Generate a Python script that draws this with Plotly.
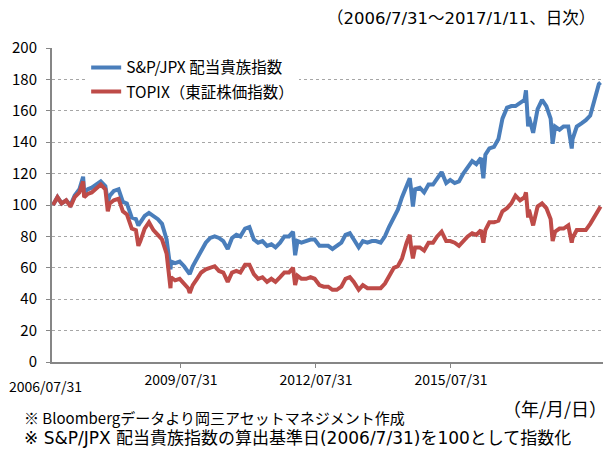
import plotly.graph_objects as go

# ---- data ----
dates = [
    "2006-07-31", "2006-08-31", "2006-09-29", "2006-10-31", "2006-11-30", "2006-12-29",
    "2007-01-31", "2007-02-26", "2007-03-05", "2007-03-30", "2007-04-27", "2007-05-31",
    "2007-06-29", "2007-07-31", "2007-08-17", "2007-08-31", "2007-09-28", "2007-10-31",
    "2007-11-30", "2007-12-28", "2008-01-31", "2008-02-29", "2008-03-17", "2008-03-31",
    "2008-04-30", "2008-05-30", "2008-06-30", "2008-07-31", "2008-08-29", "2008-09-30",
    "2008-10-27", "2008-10-31", "2008-11-28", "2008-12-30", "2009-01-30", "2009-02-27",
    "2009-03-10", "2009-03-31", "2009-04-30", "2009-05-29", "2009-06-30", "2009-07-31",
    "2009-08-31", "2009-09-30", "2009-10-30", "2009-11-30", "2009-12-30", "2010-01-29",
    "2010-02-26", "2010-03-31", "2010-04-30", "2010-05-31", "2010-06-30", "2010-07-30",
    "2010-08-31", "2010-09-30", "2010-10-29", "2010-11-30", "2010-12-30", "2011-01-31",
    "2011-02-28", "2011-03-15", "2011-03-31", "2011-04-28", "2011-05-31", "2011-06-30",
    "2011-07-29", "2011-08-31", "2011-09-30", "2011-10-31", "2011-11-30", "2011-12-30",
    "2012-01-31", "2012-02-29", "2012-03-30", "2012-04-27", "2012-05-31", "2012-06-29",
    "2012-07-31", "2012-08-31", "2012-09-28", "2012-10-31", "2012-11-30", "2012-12-28",
    "2013-01-31", "2013-02-28", "2013-03-29", "2013-04-30", "2013-05-22", "2013-05-31",
    "2013-06-13", "2013-06-28", "2013-07-31", "2013-08-30", "2013-09-30", "2013-10-31",
    "2013-11-29", "2013-12-30", "2014-01-31", "2014-02-28", "2014-03-31", "2014-04-30",
    "2014-05-30", "2014-06-30", "2014-07-31", "2014-08-29", "2014-09-30", "2014-10-17",
    "2014-10-31", "2014-11-28", "2014-12-30", "2015-01-30", "2015-02-27", "2015-03-31",
    "2015-04-30", "2015-05-29", "2015-06-30", "2015-07-31", "2015-08-10", "2015-08-25",
    "2015-08-31", "2015-09-29", "2015-10-30", "2015-11-30", "2015-12-30", "2016-01-29",
    "2016-02-12", "2016-02-29", "2016-03-31", "2016-04-28", "2016-05-31", "2016-06-24",
    "2016-06-30", "2016-07-29", "2016-08-31", "2016-09-30", "2016-10-31", "2016-11-30",
    "2016-12-30", "2017-01-11",
]

sp_jpx = [
    100, 105, 101, 103, 100, 106,
    110, 118, 108, 110, 111, 113,
    115, 112, 102, 106, 109, 110,
    102, 101, 92, 91, 87, 89,
    93, 95, 93, 91, 88, 78,
    59, 64, 63, 64, 61, 58,
    56, 61, 66, 71, 76, 79,
    80, 79, 77, 72, 79, 81,
    80, 85, 86, 78, 76, 77,
    74, 75, 73, 76, 80, 80,
    83, 68, 77, 76, 77, 78,
    78, 74, 74, 74, 72, 74,
    76, 81, 82, 78, 73, 77,
    76, 77, 77, 76, 80, 86,
    92, 97, 105, 113, 117, 110,
    99, 110, 111, 108, 113, 113,
    117, 121, 114, 116, 114, 115,
    120, 124, 128, 126, 130, 117,
    132, 136, 137, 142, 155, 162,
    163, 163, 165, 167, 173, 150,
    156, 146, 161, 167, 163, 155,
    139, 150, 148, 150, 150, 136,
    142, 150, 152, 154, 157, 168,
    177, 178,
]

topix = [
    100, 105, 101, 103, 99, 105,
    108, 115, 105, 107, 108, 111,
    113, 110, 96, 101, 103, 104,
    96, 94, 85, 84, 74, 77,
    85, 89, 84, 81, 78, 69,
    47, 54, 52, 53, 50, 47,
    44, 49, 53, 57, 59, 60,
    61, 58, 57, 51, 57, 58,
    57, 62, 62, 56, 53, 54,
    51, 53, 51, 54, 57, 57,
    60, 49, 55, 53, 53, 54,
    53, 49, 48, 48, 46, 46,
    48, 53, 54, 51, 46, 49,
    47, 47, 47, 47, 50, 55,
    60, 61, 66, 76, 81, 73,
    66, 73, 73, 71, 76, 76,
    80, 83, 77, 77, 76, 74,
    77, 80, 82, 81, 84, 76,
    84, 89, 89, 90, 96, 98,
    101, 106, 103, 105, 108, 92,
    97, 87, 99, 101, 98, 91,
    77, 83, 85, 85, 87, 76,
    79, 84, 84, 84, 88, 93,
    97, 99,
]

series_names = ["S&P/JPX 配当貴族指数", "TOPIX（東証株価指数）"]
series_colors = ["#4A7EBB", "#BE4B48"]

x_tick_dates = ["2009-01-08", "2011-08-07", "2014-03-05"]
x_tick_labels = ["2006/07/31", "2009/07/31", "2012/07/31", "2015/07/31"]
y_ticks = [0, 20, 40, 60, 80, 100, 120, 140, 160, 180, 200]

title_note = "（2006/7/31～2017/1/11、日次）"
unit_note = "（年/月/日）"
source_notes = [
    "※ Bloombergデータより岡三アセットマネジメント作成",
    "※ S&P/JPX 配当貴族指数の算出基準日(2006/7/31)を100として指数化",
]

FONT = "Noto Sans CJK JP, Noto Sans, sans-serif"
WIDE = "DejaVu Sans, Noto Sans CJK JP, sans-serif"

fig = go.Figure()
for name, vals, col, grp in zip(series_names, [sp_jpx, topix], series_colors, ["a", "b"]):
    fig.add_trace(go.Scatter(
        x=dates, y=vals, mode="lines", name=name, legendgroup=grp,
        line=dict(color=col, width=4),
    ))

fig.update_layout(
    width=607, height=449,
    margin=dict(l=52, r=4, t=48, b=87),
    paper_bgcolor="white", plot_bgcolor="white",
    font=dict(family=FONT, color="#000000", size=14),
    showlegend=True,
    legend=dict(
        x=0.062, y=0.991, xanchor="left", yanchor="top",
        bgcolor="white", borderwidth=0,
        font=dict(size=15.5, family=FONT, color="#000000"),
        traceorder="grouped", tracegroupgap=1,
    ),
)

fig.update_xaxes(
    type="date", range=["2006-07-24", "2017-01-28"],
    tickmode="array", tickvals=x_tick_dates, ticktext=x_tick_labels[1:],
    showgrid=False, zeroline=False,
    showline=True, linecolor="#868686", linewidth=2,
    ticks="outside", ticklen=4, tickcolor="#868686", tickwidth=1,
    tickfont=dict(size=14, family=FONT, color="#000000"),
)
fig.update_yaxes(
    range=[0, 200], tickmode="array", tickvals=y_ticks,
    showgrid=True, gridcolor="#A6A6A6", gridwidth=1, griddash="dot",
    zeroline=False,
    showline=True, linecolor="#868686", linewidth=2,
    ticks="outside", ticklen=4, tickcolor="#868686", tickwidth=1,
    ticklabelstandoff=6,
    tickfont=dict(size=15, family=FONT, color="#000000"),
)

annos = [
    dict(text=title_note, xref="paper", yref="paper", x=0.989, y=1.0955,
         xanchor="right", yanchor="middle", font=dict(size=16.5, family=WIDE)),
    dict(text=unit_note, xref="paper", yref="paper", x=1.01, y=-0.1465,
         xanchor="right", yanchor="middle", font=dict(size=18, family=FONT)),
    dict(text=x_tick_labels[0], xref="paper", yref="paper", x=-0.0127, y=-0.0764,
         xanchor="center", yanchor="middle", font=dict(size=14, family=FONT)),
    dict(text=source_notes[0], xref="paper", yref="paper", x=-0.0544, y=-0.176,
         xanchor="left", yanchor="middle", font=dict(size=15, family=FONT)),
    dict(text=source_notes[1], xref="paper", yref="paper", x=-0.0544, y=-0.242,
         xanchor="left", yanchor="middle", font=dict(size=17, family=WIDE)),
]
for a in annos:
    a["showarrow"] = False
    a["font"]["color"] = "#000000"
fig.update_layout(annotations=annos)

fig.write_html(
    "out.html",
    config={"displayModeBar": False},
    post_script="document.body.style.margin='0px';document.body.style.overflow='hidden';",
)
